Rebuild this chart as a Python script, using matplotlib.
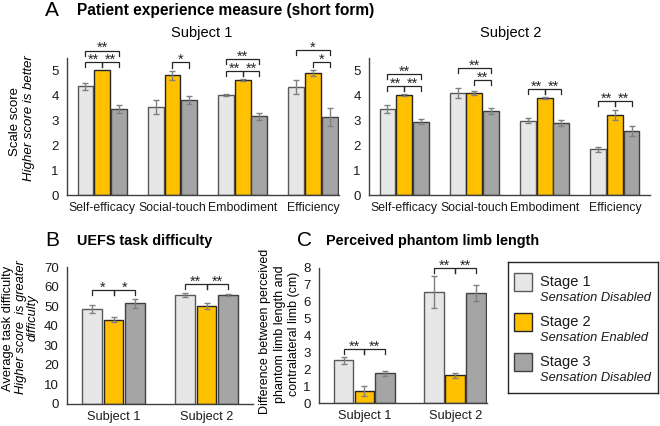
import matplotlib
matplotlib.use('Agg')
import matplotlib.pyplot as plt
from matplotlib.patches import Rectangle
import numpy as np

plt.rcParams['font.family'] = ['Liberation Sans', 'DejaVu Sans']

# ---------------- data ----------------
stages = ['Stage 1', 'Stage 2', 'Stage 3']
stage_notes = ['Sensation Disabled', 'Sensation Enabled', 'Sensation Disabled']
pem_categories = ['Self-efficacy', 'Social-touch', 'Embodiment', 'Efficiency']
subjects = ['Subject 1', 'Subject 2']

# Panel A, Subject 1 (rows = stages, cols = categories)
pem_s1_mean = [[4.36, 3.53, 4.02, 4.32],
               [5.00, 4.81, 4.61, 4.89],
               [3.46, 3.82, 3.16, 3.14]]
pem_s1_err = [[0.13, 0.28, 0.05, 0.28],
              [0.00, 0.18, 0.05, 0.13],
              [0.17, 0.15, 0.15, 0.35]]
# Panel A, Subject 2
pem_s2_mean = [[3.46, 4.09, 2.98, 1.84],
               [4.01, 4.09, 3.90, 3.23],
               [2.94, 3.39, 2.91, 2.57]]
pem_s2_err = [[0.17, 0.20, 0.10, 0.10],
              [0.05, 0.08, 0.03, 0.20],
              [0.10, 0.12, 0.12, 0.22]]
# Panel B (cols = subjects)
uefs_mean = [[48.5, 55.7], [43.1, 50.1], [51.6, 55.7]]
uefs_err = [[2.0, 1.2], [1.3, 1.5], [2.3, 0.7]]
# Panel C
limb_mean = [[2.53, 6.56], [0.73, 1.63], [1.77, 6.52]]
limb_err = [[0.20, 0.95], [0.30, 0.17], [0.15, 0.48]]

# significance: (group, stage_a, stage_b, level, label)
pem_s1_sig = [(0, 0, 1, 0, '**'), (0, 1, 2, 0, '**'), (0, 0, 2, 1, '**'),
              (1, 1, 2, 0, '*'),
              (2, 0, 1, 0, '**'), (2, 1, 2, 0, '**'), (2, 0, 2, 1, '**'),
              (3, 1, 2, 0, '*'), (3, 0, 2, 1, '*')]
pem_s2_sig = [(0, 0, 1, 0, '**'), (0, 1, 2, 0, '**'), (0, 0, 2, 1, '**'),
              (1, 1, 2, 0, '**'), (1, 0, 2, 1, '**'),
              (2, 0, 1, 0, '**'), (2, 1, 2, 0, '**'),
              (3, 0, 1, 0, '**'), (3, 1, 2, 0, '**')]
uefs_sig = [(0, 0, 1, 0, '*'), (0, 1, 2, 0, '*'),
            (1, 0, 1, 0, '**'), (1, 1, 2, 0, '**')]
limb_sig = [(0, 0, 1, 0, '**'), (0, 1, 2, 0, '**'),
            (1, 0, 1, 0, '**'), (1, 1, 2, 0, '**')]

# ---------------- style ----------------
fills = ['#E7E7E7', '#FFC000', '#A5A5A5']
edges = ['#595959', '#262626', '#404040']
ERRC = '#808080'
AXC = '#404040'
W, H = 660, 426

fig = plt.figure(figsize=(6.6, 4.26), dpi=100)


def fax(l, r, t, b):
    return fig.add_axes([l / W, 1 - b / H, (r - l) / W, (b - t) / H])


def draw(ax, cats, means, errs, sig, ymax, yticks, width, offset, xlim, fs_cat, fs_tick):
    means = np.array(means, float)
    errs = np.array(errs, float)
    n = means.shape[1]
    base_x = np.arange(n)
    for k in range(3):
        x = base_x + (k - 1) * offset
        ax.bar(x, means[k], width, color=fills[k], edgecolor=edges[k], linewidth=1.0, zorder=2)
        e = np.where(errs[k] > 0, errs[k], np.nan)
        ax.errorbar(x, means[k], yerr=e, fmt='none', ecolor=ERRC, elinewidth=1,
                    capsize=2.5, capthick=1, zorder=3)
    ax.set_xlim(*xlim)
    ax.set_ylim(0, ymax)
    ax.set_yticks(yticks)
    ax.set_xticks(base_x)
    ax.set_xticklabels(cats, fontsize=fs_cat, color='#1a1a1a')
    ax.tick_params(axis='y', length=0, labelsize=fs_tick, colors='#1a1a1a', pad=6)
    ax.tick_params(axis='x', length=0, pad=5)
    for s in ['top', 'right']:
        ax.spines[s].set_visible(False)
    for s in ['left', 'bottom']:
        ax.spines[s].set_color(AXC)
        ax.spines[s].set_linewidth(1.0)
    # significance brackets
    tops = means + np.nan_to_num(errs)
    pad = 0.06 * ymax
    step = 0.085 * ymax
    tick = 0.037 * ymax
    for g in range(n):
        items = [s for s in sig if s[0] == g]
        if not items:
            continue
        involved = set()
        for (_, a, b, lev, lab) in items:
            involved.update(range(a, b + 1))
        base = max(tops[k, g] for k in involved) + pad
        for (_, a, b, lev, lab) in items:
            y = base + lev * step
            xa = g + (a - 1) * offset
            xb = g + (b - 1) * offset
            ax.plot([xa, xa, xb, xb], [y - tick, y, y, y - tick], color='#262626',
                    lw=0.9, clip_on=False, zorder=4, solid_joinstyle='miter')
            ax.annotate(lab, ((xa + xb) / 2, y), xytext=(0, -1.2),
                        textcoords='offset points', ha='center', va='baseline',
                        fontsize=10.5, color='#262626', annotation_clip=False)


# Panel A
axA1 = fax(67, 339, 58, 195)
draw(axA1, pem_categories, pem_s1_mean, pem_s1_err, pem_s1_sig, 5.5, range(0, 6),
     0.225, 0.237, (-0.5, 3.37), 8.8, 9.5)
axA2 = fax(369, 650, 58, 195)
draw(axA2, pem_categories, pem_s2_mean, pem_s2_err, pem_s2_sig, 5.5, range(0, 6),
     0.225, 0.237, (-0.5, 3.5), 8.8, 9.5)

# Panel B
axB = fax(67, 253, 267, 404)
draw(axB, subjects, uefs_mean, uefs_err, uefs_sig, 70, range(0, 71, 10),
     0.215, 0.234, (-0.5, 1.5), 9.2, 9.5)

# Panel C
axC = fax(319, 487, 268, 403)
draw(axC, subjects, limb_mean, limb_err, limb_sig, 8, range(0, 9),
     0.217, 0.23, (-0.5, 1.35), 9.2, 9.5)

# ---------------- texts ----------------
def ft(x, y, s, **kw):
    fig.text(x / W, 1 - y / H, s, **kw)

ft(45, 10, 'A', fontsize=15, va='center', ha='left')
ft(77, 10, 'Patient experience measure (short form)', fontsize=11.2, fontweight='bold', va='center')
ft(202, 33, 'Subject 1', fontsize=10.5, ha='center', va='center')
ft(511, 33, 'Subject 2', fontsize=10.5, ha='center', va='center')
ft(15, 122, 'Scale score', fontsize=9.5, rotation=90, ha='center', va='center')
ft(29, 118, 'Higher score is better', fontsize=9.5, style='italic', rotation=90, ha='center', va='center')

ft(45, 241, 'B', fontsize=15, va='center', ha='left')
ft(77, 241, 'UEFS task difficulty', fontsize=10.4, fontweight='bold', va='center')
ft(8, 328, 'Average task difficulty', fontsize=9.3, rotation=90, ha='center', va='center')
ft(21, 327, 'Higher score  is greater', fontsize=9.3, style='italic', rotation=90, ha='center', va='center')
ft(33, 318, 'difficulty', fontsize=9.3, style='italic', rotation=90, ha='center', va='center')

ft(297, 241, 'C', fontsize=15, va='center', ha='left')
ft(326, 241, 'Perceived phantom limb length', fontsize=10.4, fontweight='bold', va='center')
ft(265, 331, 'Difference between perceived', fontsize=9, rotation=90, ha='center', va='center')
ft(280, 334, 'phantom limb length and', fontsize=9, rotation=90, ha='center', va='center')
ft(294, 334, 'contralateral limb (cm)', fontsize=9, rotation=90, ha='center', va='center')

# ---------------- legend ----------------
lx0, lx1, ly0, ly1 = 508, 658, 262, 393
lax = fax(lx0, lx1, ly0, ly1)
lax.set_xlim(lx0, lx1)
lax.set_ylim(ly1, ly0)
lax.set_xticks([])
lax.set_yticks([])
for s in lax.spines.values():
    s.set_color('#262626')
    s.set_linewidth(1.0)
for k in range(3):
    yc = 282 + 40 * k
    lax.add_patch(Rectangle((514, yc - 9), 18, 18, facecolor=fills[k], edgecolor=edges[k], lw=1.0))
    lax.text(540, yc, stages[k], fontsize=10.5, va='center', ha='left', color='#1a1a1a')
    lax.text(540, yc + 16, stage_notes[k], fontsize=9.3, style='italic', va='center', ha='left', color='#1a1a1a')

fig.savefig('out.png', dpi=100)
